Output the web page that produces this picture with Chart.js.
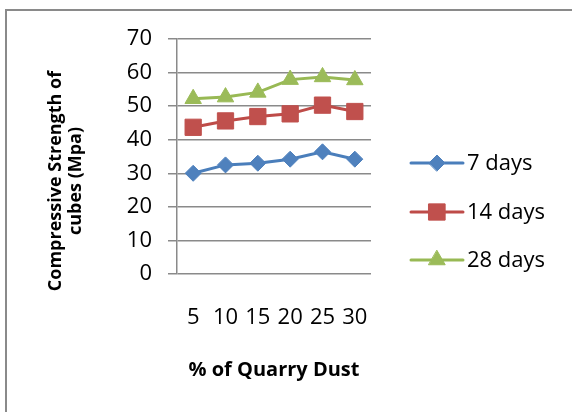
<!DOCTYPE html>
<html>
<head>
<meta charset="utf-8">
<script src="https://cdn.jsdelivr.net/npm/chart.js@4.4.1/dist/chart.umd.min.js"></script>
<style>
  body { margin: 0; background: #fff; width: 572px; height: 412px; overflow: hidden; position: relative; }
  #frame { position: absolute; left: 5px; top: 9px; width: 600px; height: 450px;
           border-left: 2px solid #8a8a8a; border-top: 2px solid #8a8a8a; }
  #cut { position: absolute; left: 34px; top: -15px; font: 16px "Liberation Serif", serif; color: #000; }
  #chart { position: absolute; left: 0; top: 0; }
</style>
</head>
<body>
<div id="cut">For cubes</div>
<div id="frame"></div>
<canvas id="chart" width="572" height="412"></canvas>
<script>
const quarryDust = ['5', '10', '15', '20', '25', '30'];
const days7 = [30.0, 32.5, 33.0, 34.2, 36.4, 34.2];
const days14 = [43.7, 45.6, 46.9, 47.7, 50.3, 48.4];
const days28 = [52.2, 52.7, 54.1, 57.9, 58.7, 57.8];
const yTitle = ['Compressive Strength of', 'cubes (Mpa)'];

const FONT = '"Open Sans", "Noto Sans", sans-serif';
const NARROW = '"Liberation Sans Narrow", "Open Sans", sans-serif';

// legend drawn like Excel: line with marker in the middle, label to the right
const excelLegend = {
    id: 'excelLegend',
    afterDraw(chart) {
        const ctx = chart.ctx;
        const x0 = 411, x1 = 463, tx = 467;
        const ys = [163, 212, 260];
        chart.data.datasets.forEach((ds, i) => {
            const y = ys[i];
            ctx.save();
            ctx.strokeStyle = ds.borderColor;
            ctx.lineWidth = ds.borderWidth;
            ctx.lineCap = 'round';
            ctx.beginPath();
            ctx.moveTo(x0, y);
            ctx.lineTo(x1, y);
            ctx.stroke();
            ctx.fillStyle = ds.pointBackgroundColor;
            ctx.strokeStyle = ds.pointBackgroundColor;
            ctx.lineWidth = 1;
            Chart.helpers.drawPoint(ctx, {
                pointStyle: ds.pointStyle,
                rotation: 0,
                radius: ds.pointRadius,
                borderWidth: 1
            }, (x0 + x1) / 2, y);
            ctx.fillStyle = '#000';
            ctx.font = '22px ' + FONT;
            ctx.textBaseline = 'middle';
            ctx.fillText(ds.label, tx, y + 1);
            ctx.restore();
        });
    }
};

// y axis title sits lower than the plot centre in the original, so draw it here
const yAxisTitle = {
    id: 'yAxisTitle',
    afterDraw(chart) {
        const ctx = chart.ctx;
        ctx.save();
        ctx.translate(56, 181);
        ctx.rotate(-Math.PI / 2);
        ctx.fillStyle = '#000';
        ctx.font = 'bold 18px ' + FONT;
        ctx.textAlign = 'center';
        ctx.textBaseline = 'middle';
        yTitle.forEach((t, i) => ctx.fillText(t, 0, i * 19.5));
        ctx.restore();
    }
};

function series(label, data, line, fill, style, radius) {
    return {
        label: label,
        data: data,
        borderColor: line,
        borderWidth: 3,
        pointStyle: style,
        pointRadius: radius,
        pointHoverRadius: radius,
        pointBackgroundColor: fill,
        pointBorderColor: fill,
        pointBorderWidth: 1,
        tension: 0,
        fill: false
    };
}

new Chart(document.getElementById('chart').getContext('2d'), {
    type: 'line',
    data: {
        labels: quarryDust,
        datasets: [
            series('7 days', days7, '#4A7EBB', '#4F81BD', 'rectRot', 8),
            series('14 days', days14, '#BE4B48', '#C0504D', 'rect', 11.5),
            series('28 days', days28, '#98B954', '#9BBB59', 'triangle', 9.5)
        ]
    },
    options: {
        responsive: false,
        animation: false,
        layout: { padding: { left: 46, right: 201, top: 39, bottom: 24 } },
        plugins: {
            legend: { display: false },
            tooltip: { enabled: false }
        },
        scales: {
            x: {
                offset: true,
                afterFit(scale) { scale.height = 114; },
                grid: { display: false, drawTicks: false, offset: true },
                border: { display: false },
                ticks: { color: '#000', font: { family: NARROW, size: 22 }, padding: 31, maxRotation: 0 },
                title: {
                    display: true,
                    text: '% of Quarry Dust',
                    color: '#000',
                    font: { family: FONT, size: 20, weight: 'bold' },
                    padding: { top: 0, bottom: 6 }
                }
            },
            y: {
                afterFit(scale) { scale.width = 131; },
                min: 0,
                max: 70,
                ticks: { stepSize: 10, color: '#000', font: { family: FONT, size: 22 }, padding: 16 },
                grid: { color: '#8a8a8a', lineWidth: 1.5, tickLength: 9, tickColor: '#8a8a8a' },
                border: { color: '#8a8a8a', width: 1.5 }
            }
        }
    },
    plugins: [excelLegend, yAxisTitle]
});
</script>
</body>
</html>
